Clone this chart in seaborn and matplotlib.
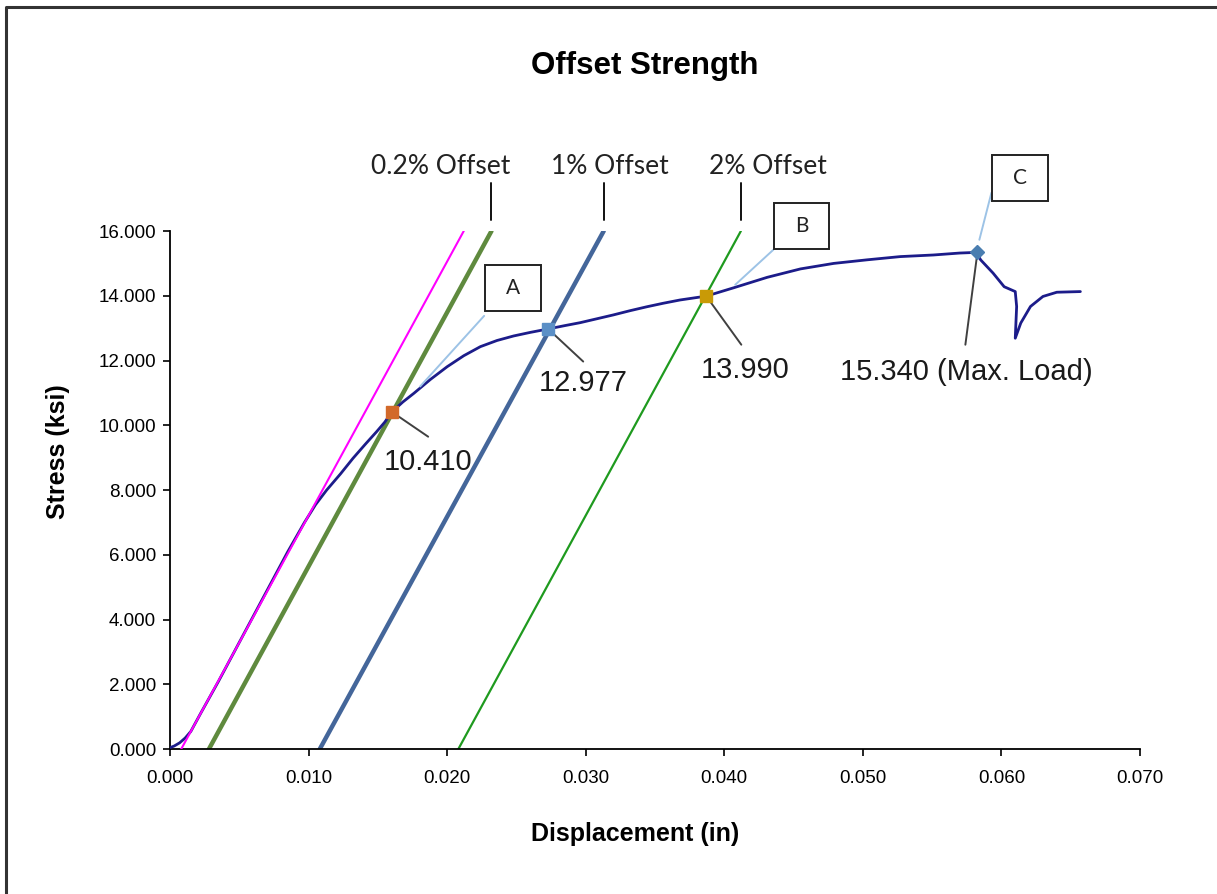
#!/usr/bin/env python3
"""Offset strength chart: stress-displacement curve with 0.2 %, 1 % and 2 % offset lines."""

import matplotlib

matplotlib.use("Agg")
import matplotlib.pyplot as plt
import pandas as pd
import seaborn as sns
from matplotlib.lines import Line2D
from matplotlib.patches import Rectangle

# =============================================================================
# DATA
# =============================================================================

# Measured curve: displacement (in) and stress (ksi).
DISPLACEMENT = [
    0.0000, 0.0003, 0.0007, 0.0011, 0.0015, 0.0022, 0.0035, 0.0060, 0.0085,
    0.0097, 0.0105, 0.0113, 0.0123, 0.0132, 0.0141, 0.0149, 0.0155, 0.0160,
    0.0168, 0.0176, 0.0188, 0.0200, 0.0212, 0.0224, 0.0236, 0.0248, 0.0260,
    0.0273, 0.0285, 0.0296, 0.0308, 0.0320, 0.0332, 0.0344, 0.0356, 0.0368,
    0.0387, 0.0407, 0.0431, 0.0455, 0.0479, 0.0503, 0.0527, 0.0551, 0.0570,
    0.0582, 0.0585, 0.0594, 0.0602, 0.0610, 0.0611, 0.0610, 0.0614, 0.0621,
    0.0630, 0.0640, 0.0657,
]
STRESS = [
    0.05, 0.10, 0.20, 0.35, 0.55, 1.10, 2.10, 4.10, 6.10,
    7.00, 7.55, 8.00, 8.50, 8.98, 9.42, 9.80, 10.10, 10.41,
    10.72, 10.99, 11.42, 11.81, 12.15, 12.43, 12.62, 12.76, 12.87,
    12.977, 13.08, 13.17, 13.29, 13.41, 13.54, 13.66, 13.77, 13.87,
    13.99, 14.25, 14.57, 14.83, 15.00, 15.11, 15.21, 15.26, 15.32,
    15.34, 15.11, 14.70, 14.28, 14.13, 13.67, 12.69, 13.16, 13.67,
    13.98, 14.11, 14.13,
]

# Offset lines: elastic line plus parallel lines shifted by the offsets.
OFFSET_NAMES = ["Elastic", "0.2% Offset", "1% Offset", "2% Offset"]
LINE_START_X = [0.0008, 0.0028, 0.0108, 0.0208]   # displacement at 0 ksi
LINE_END_X = [0.0212, 0.0232, 0.0313, 0.0412]     # displacement at 16 ksi
LINE_STRESS = [0.0, 16.0]

# Intersection / max points.
POINT_X = [0.01603, 0.02729, 0.03870, 0.05827]
POINT_Y = [10.410, 12.977, 13.990, 15.340]
POINT_LABELS = ["10.410", "12.977", "13.990", "15.340 (Max. Load)"]

# Axis ticks.
X_TICKS = [0.000, 0.010, 0.020, 0.030, 0.040, 0.050, 0.060, 0.070]
Y_TICKS = [0, 2, 4, 6, 8, 10, 12, 14, 16]

# =============================================================================
# STYLE
# =============================================================================

FIG_W, FIG_H, DPI = 12.17, 8.94, 100
CURVE_COLOR = "#1c1c8a"
LINE_COLORS = ["#ff00ff", "#5f8a3e", "#44669a", "#1f9a1f"]
LINE_WIDTHS = [1.5, 3.2, 3.2, 1.6]
LINE_ZORDER = [4, 2, 2, 2]   # elastic line is drawn over the curve
POINT_COLORS = ["#d2692a", "#5b8fc6", "#c99a06", "#4a7eb0"]
POINT_MARKERS = ["s", "s", "s", "D"]
POINT_SIZES = [9, 9, 9, 7.5]
VALUE_LEADER = "#404040"
BOX_LEADER = "#9dc3e6"

ARIAL = "Liberation Sans"
CALIBRI = "Lato"

# Annotation placement (data coordinates).
VALUE_TEXT_POS = [(0.01863, 8.87), (0.02982, 11.32), (0.04152, 11.72), (0.05747, 11.65)]
VALUE_LEADER_END = [(0.01863, 9.65), (0.02982, 11.97), (0.04123, 12.49), (0.05740, 12.49)]
BOX_CENTERS = [(0.02475, 14.24), (0.04556, 16.17), (0.06133, 17.64)]
BOX_LEADER_START = [(0.02267, 13.38), (0.04354, 15.42), (0.05928, 17.18)]
BOX_LEADER_END = [(0.01805, 11.20), (0.04079, 14.34), (0.05841, 15.73)]
BOX_W, BOX_H = 0.0040, 1.42
OFFSET_TEXT_POS = [(0.01957, 17.98), (0.03177, 17.98), (0.04318, 17.98)]
OFFSET_LEADER_Y = (16.34, 17.48)


def main() -> None:
    sns.set_theme(style="ticks")
    plt.rcParams["font.family"] = [ARIAL, "DejaVu Sans"]
    plt.rcParams["text.color"] = "black"
    plt.rcParams["axes.labelcolor"] = "black"

    fig = plt.figure(figsize=(FIG_W, FIG_H), dpi=DPI)
    ax = fig.add_axes([0.1397, 0.1619, 0.7970, 0.5797])

    # Offset lines.
    for x0, x1, color, lw, z in zip(LINE_START_X, LINE_END_X, LINE_COLORS,
                                    LINE_WIDTHS, LINE_ZORDER):
        line_df = pd.DataFrame({"x": [x0, x1], "y": LINE_STRESS})
        sns.lineplot(data=line_df, x="x", y="y", color=color, linewidth=lw,
                     sort=False, estimator=None, ax=ax, zorder=z)

    # Measured curve.
    curve_df = pd.DataFrame({"x": DISPLACEMENT, "y": STRESS})
    sns.lineplot(data=curve_df, x="x", y="y", color=CURVE_COLOR, linewidth=2.0,
                 sort=False, estimator=None, ax=ax, zorder=3)

    # Points.
    for px, py, color, marker, size in zip(POINT_X, POINT_Y, POINT_COLORS,
                                           POINT_MARKERS, POINT_SIZES):
        ax.plot(px, py, marker=marker, color=color, markersize=size,
                markeredgecolor=color, zorder=6, clip_on=False)

    # Value labels with dark leaders.
    for (px, py), (lx, ly), (tx, ty), text in zip(zip(POINT_X, POINT_Y),
                                                  VALUE_LEADER_END,
                                                  VALUE_TEXT_POS, POINT_LABELS):
        ax.plot([px, lx], [py, ly], color=VALUE_LEADER, linewidth=1.4, zorder=5)
        ax.text(tx, ty, text, ha="center", va="center", fontsize=21,
                color="#1a1a1a", family=[ARIAL, "DejaVu Sans"], zorder=7)

    # Letter boxes with light-blue leaders.
    for letter, (cx, cy), (sx, sy), (ex, ey) in zip(["A", "B", "C"], BOX_CENTERS,
                                                    BOX_LEADER_START, BOX_LEADER_END):
        ax.plot([sx, ex], [sy, ey], color=BOX_LEADER, linewidth=1.4,
                zorder=5, clip_on=False)
        ax.add_patch(Rectangle((cx - BOX_W / 2, cy - BOX_H / 2), BOX_W, BOX_H,
                               facecolor="white", edgecolor="#222222",
                               linewidth=1.4, zorder=7, clip_on=False))
        ax.text(cx, cy, letter, ha="center", va="center", fontsize=15,
                family=[CALIBRI, "DejaVu Sans"], color="#222222", zorder=8)

    # Offset line names with vertical leaders.
    for name, x1, (tx, ty) in zip(OFFSET_NAMES[1:], LINE_END_X[1:], OFFSET_TEXT_POS):
        ax.plot([x1, x1], OFFSET_LEADER_Y, color="#111111", linewidth=1.4,
                clip_on=False)
        ax.text(tx, ty, name, ha="center", va="center", fontsize=19,
                family=[CALIBRI, "DejaVu Sans"], color="#222222")

    # Axes.
    ax.set_xlim(X_TICKS[0], X_TICKS[-1])
    ax.set_ylim(Y_TICKS[0], Y_TICKS[-1])
    ax.set_xticks(X_TICKS)
    ax.set_yticks(Y_TICKS)
    ax.set_xticklabels([f"{v:.3f}" for v in X_TICKS])
    ax.set_yticklabels([f"{v:.3f}" for v in Y_TICKS])
    ax.tick_params(axis="both", direction="out", length=5, width=1.2,
                   labelsize=13.5, colors="black")
    ax.tick_params(axis="x", pad=10)
    ax.tick_params(axis="y", pad=5)
    for side in ("top", "right"):
        ax.spines[side].set_visible(False)
    for side in ("left", "bottom"):
        ax.spines[side].set_color("black")
        ax.spines[side].set_linewidth(1.3)

    ax.set_xlabel("Displacement (in)", fontsize=18, fontweight="bold")
    ax.set_ylabel("Stress (ksi)", fontsize=18, fontweight="bold")
    ax.xaxis.set_label_coords(0.480, -0.140)
    ax.yaxis.set_label_coords(-0.103, 0.5736)

    fig.text(0.530, 0.926, "Offset Strength", ha="center", va="center",
             fontsize=22.5, fontweight="bold")

    # Outer frame (top and left edges visible in the reference crop).
    fig.add_artist(Line2D([0.0053, 0.0053, 1.0], [0.0, 0.9927, 0.9927],
                          transform=fig.transFigure, color="#333333", linewidth=2.2))

    fig.savefig("out.png", dpi=DPI, facecolor="white")
    plt.close(fig)


if __name__ == "__main__":
    main()
